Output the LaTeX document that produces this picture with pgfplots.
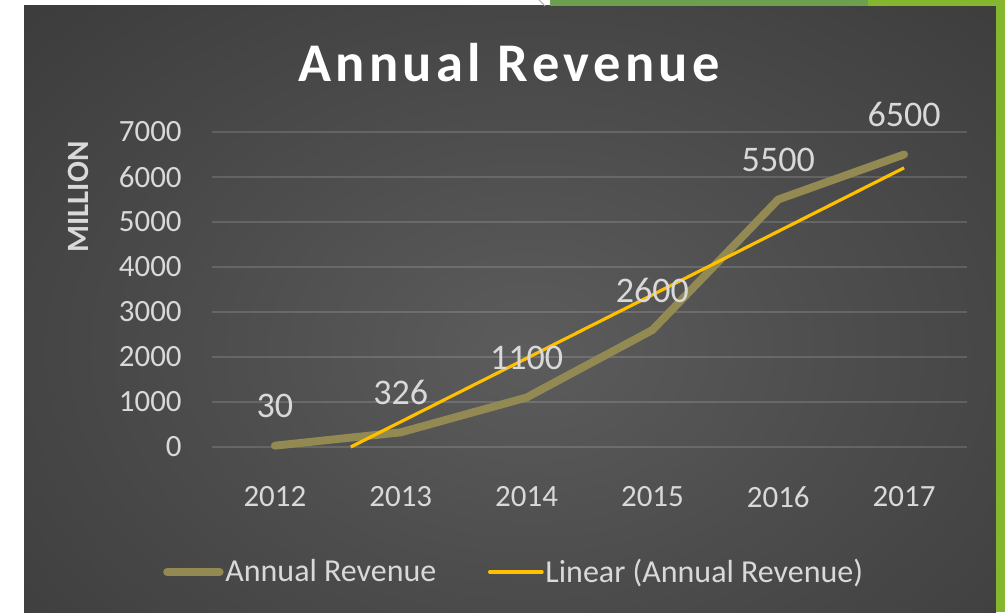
\documentclass[border=0pt]{standalone}
\usepackage{fontspec}
\setmainfont{Carlito}
\newfontfamily\titlefont[LetterSpace=8]{Carlito}
\usepackage{pgfplots}
\pgfplotsset{compat=1.18}

\definecolor{bgc}{HTML}{5C5C5C}
\definecolor{bgm}{HTML}{4C4C4C}
\definecolor{bgo}{HTML}{363636}
\definecolor{bge}{HTML}{262626}
\definecolor{lbl}{HTML}{D9D9D9}
\definecolor{rev}{HTML}{928953}
\definecolor{trend}{HTML}{FFC000}
\definecolor{gmid}{HTML}{6CA04E}
\definecolor{gbright}{HTML}{84B62E}

\pgfdeclareradialshading{panelshade}{\pgfpoint{0bp}{0bp}}{color(0bp)=(bgc); color(12bp)=(bgm); color(30bp)=(bgo); color(50bp)=(bge)}

\begin{document}
\begin{tikzpicture}
% page is 1005 x 612 px, 1px = 0.02cm
\useasboundingbox (0,0) rectangle (20.1,12.24);
\fill[white] (0,0) rectangle (20.1,12.24);
\begin{scope}
  \clip (0.48,0) rectangle (19.92,12.12);
  \shade[shading=panelshade] (-3.4,-4.76) rectangle (24.6,15.24);
\end{scope}
\fill[gmid] (11.0,12.12) rectangle (17.36,12.24);
\fill[gbright] (17.36,12.12) rectangle (20.1,12.24);
\fill[gbright] (19.92,0) rectangle (20.1,12.24);
\draw[gray!60, line width=0.6pt] (10.78,12.24) -- (10.9,12.12);

\begin{axis}[
  at={(4.24cm,3.3cm)}, anchor=south west,
  scale only axis, width=15.1cm, height=6.3cm,
  xmin=-0.5, xmax=5.5, ymin=0, ymax=7000,
  xtick={0,1,2,3,4,5}, xticklabels={2012,2013,2014,2015,2016,2017},
  ytick={0,1000,2000,3000,4000,5000,6000,7000},
  axis line style={draw=none}, major tick style={draw=none},
  ymajorgrids, major grid style={color=white, opacity=0.14, line width=0.7pt},
  clip=false,
  /pgf/number format/1000 sep={},
  /pgf/number format/assume math mode=true,
  tick label style={font=\fontsize{17.6}{20}\selectfont, text=lbl, inner sep=0pt},
  yticklabel style={anchor=east, xshift=-0.6cm},
  xticklabel style={anchor=north, yshift=-0.78cm},
  every node near coord/.append style={anchor=center, yshift=0.8cm,
    font=\fontsize{20.5}{24}\selectfont, text=lbl},
  legend style={at={(0.4,-0.397)}, anchor=center, draw=none, fill=none,
    legend columns=2, font=\fontsize{18.2}{20}\selectfont, text=lbl,
    nodes={inner xsep=1pt},
    /tikz/every even column/.append style={column sep=1.0cm}},
  legend cell align=left,
  legend image code/.code={\draw[#1, line cap=round] (0cm,0cm) -- (1.05cm,0cm);},
]
\addplot[color=rev, line width=4.5pt, line cap=round, line join=round, nodes near coords]
  coordinates {(0,30)(1,326)(2,1100)(3,2600)(4,5500)(5,6500)};
\addlegendentry{Annual Revenue}
\addplot[color=trend, line width=1.8pt]
  coordinates {(0.603,0)(5,6202.6)};
\addlegendentry{Linear (Annual Revenue)}
\end{axis}

\node[font=\titlefont\bfseries\fontsize{31}{37}\selectfont, text=white, anchor=base] at (10.18,10.6) {Annual Revenue};
\node[rotate=90, font=\bfseries\fontsize{17.6}{20}\selectfont, text=lbl] at (1.56,8.3) {MILLION};
\end{tikzpicture}
\end{document}
